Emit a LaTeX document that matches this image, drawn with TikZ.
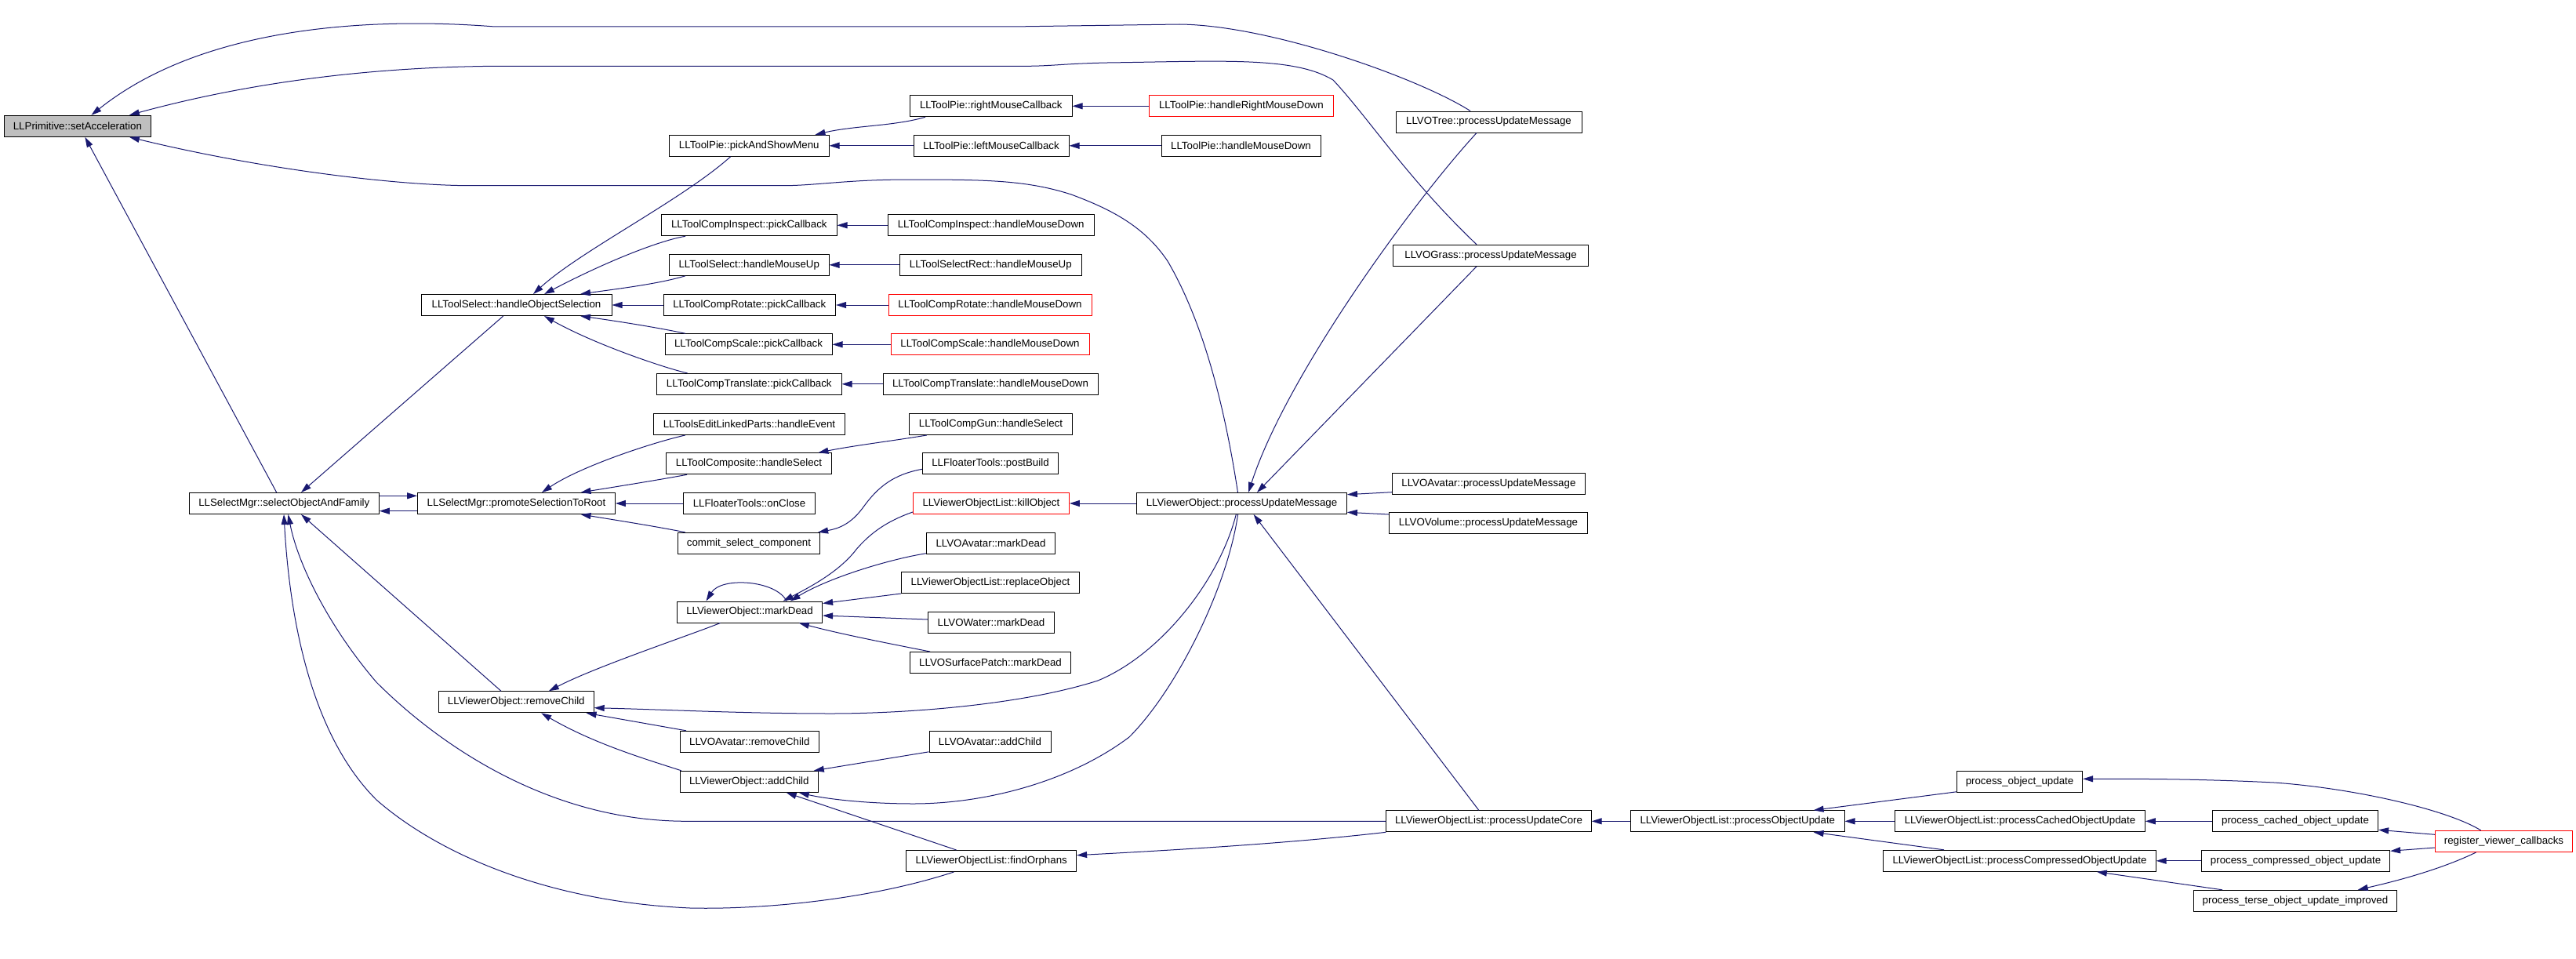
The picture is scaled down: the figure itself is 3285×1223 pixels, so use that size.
\documentclass[tikz,border=0pt]{standalone}
\usepackage{fontspec}
\setmainfont{Liberation Sans}
\usetikzlibrary{calc,arrows.meta}
\definecolor{edgeblue}{RGB}{25,25,112}
\definecolor{rootgray}{RGB}{191,191,191}
\begin{document}
\begin{tikzpicture}[x=1pt,y=-1pt,
  box/.style={draw=black,line width=1pt,fill=white,minimum height=27pt,inner sep=0pt,font=\fontsize{13.3pt}{16pt}\selectfont},
  redbox/.style={box,draw=red},
  edge/.style={draw=edgeblue,line width=1pt,-{Triangle[length=13pt,width=8pt]}}]
\useasboundingbox (0,0) rectangle (3285,1223);
% nodes
\node[box,minimum width=187pt,fill=rootgray] (setacc) at (98.9,160.8) {LLPrimitive::setAcceleration};
\node[box,minimum width=203.4pt] (pickshow) at (955.3,185.8) {LLToolPie::pickAndShowMenu};
\node[box,minimum width=206.5pt] (rmc) at (1263.8,135.3) {LLToolPie::rightMouseCallback};
\node[redbox,minimum width=234.2pt] (hrmd) at (1582.9,135.3) {LLToolPie::handleRightMouseDown};
\node[box,minimum width=198pt] (lmc) at (1264,185.8) {LLToolPie::leftMouseCallback};
\node[box,minimum width=203pt] (pihmd) at (1582.5,185.8) {LLToolPie::handleMouseDown};
\node[box,minimum width=237pt] (votree) at (1898.5,155.5) {LLVOTree::processUpdateMessage};
\node[box,minimum width=223.4pt] (cinsp) at (955.3,287.3) {LLToolCompInspect::pickCallback};
\node[box,minimum width=263.4pt] (cinsphmd) at (1263.7,287.3) {LLToolCompInspect::handleMouseDown};
\node[box,minimum width=203.4pt] (tshmu) at (955.3,337.8) {LLToolSelect::handleMouseUp};
\node[box,minimum width=231.5pt] (tsrhmu) at (1263.3,337.8) {LLToolSelectRect::handleMouseUp};
\node[box,minimum width=249.5pt] (vograss) at (1901,325.8) {LLVOGrass::processUpdateMessage};
\node[box,minimum width=243pt] (hos) at (658.5,389) {LLToolSelect::handleObjectSelection};
\node[box,minimum width=219.6pt] (crpc) at (955.8,389) {LLToolCompRotate::pickCallback};
\node[redbox,minimum width=259pt] (crhmd) at (1262.5,389) {LLToolCompRotate::handleMouseDown};
\node[box,minimum width=213pt] (cspc) at (954.5,439.3) {LLToolCompScale::pickCallback};
\node[redbox,minimum width=253pt] (cshmd) at (1262.5,439.3) {LLToolCompScale::handleMouseDown};
\node[box,minimum width=235.5pt] (ctpc) at (955.3,489.8) {LLToolCompTranslate::pickCallback};
\node[box,minimum width=274pt] (cthmd) at (1263,489.8) {LLToolCompTranslate::handleMouseDown};
\node[box,minimum width=243.7pt] (telp) at (955.5,541) {LLToolsEditLinkedParts::handleEvent};
\node[box,minimum width=208pt] (cgun) at (1263.5,541) {LLToolCompGun::handleSelect};
\node[box,minimum width=210.8pt] (tcomp) at (955,591.3) {LLToolComposite::handleSelect};
\node[box,minimum width=173.2pt] (postbuild) at (1263,591.3) {LLFloaterTools::postBuild};
\node[box,minimum width=242pt] (soaf) at (362.3,642) {LLSelectMgr::selectObjectAndFamily};
\node[box,minimum width=251.8pt] (pstr) at (658.5,642) {LLSelectMgr::promoteSelectionToRoot};
\node[box,minimum width=168pt] (onclose) at (955.5,642) {LLFloaterTools::onClose};
\node[redbox,minimum width=199pt] (kill) at (1263.9,642) {LLViewerObjectList::killObject};
\node[box,minimum width=267.8pt] (vopum) at (1583.5,642) {LLViewerObject::processUpdateMessage};
\node[box,minimum width=246pt] (avpum) at (1898.4,617) {LLVOAvatar::processUpdateMessage};
\node[box,minimum width=253pt] (volpum) at (1898,667.3) {LLVOVolume::processUpdateMessage};
\node[box,minimum width=181.2pt] (csc) at (955,692.8) {commit\_select\_component};
\node[box,minimum width=164.3pt] (avmd) at (1263.5,692.8) {LLVOAvatar::markDead};
\node[box,minimum width=226.8pt] (replace) at (1263,743) {LLViewerObjectList::replaceObject};
\node[box,minimum width=185.2pt] (vomd) at (956,780.5) {LLViewerObject::markDead};
\node[box,minimum width=161pt] (watermd) at (1264,793.8) {LLVOWater::markDead};
\node[box,minimum width=205.4pt] (spmd) at (1263,845) {LLVOSurfacePatch::markDead};
\node[box,minimum width=197.8pt] (rmch) at (658.3,895.3) {LLViewerObject::removeChild};
\node[box,minimum width=176.7pt] (avrmch) at (955.8,945.8) {LLVOAvatar::removeChild};
\node[box,minimum width=155pt] (avaddch) at (1262.5,945.8) {LLVOAvatar::addChild};
\node[box,minimum width=175.5pt] (addch) at (955.3,996.8) {LLViewerObject::addChild};
\node[box,minimum width=216.8pt] (orphans) at (1264.2,1098) {LLViewerObjectList::findOrphans};
\node[box,minimum width=261.4pt] (puc) at (1898.5,1047.3) {LLViewerObjectList::processUpdateCore};
\node[box,minimum width=272.4pt] (pou) at (2215.8,1047.3) {LLViewerObjectList::processObjectUpdate};
\node[box,minimum width=160.2pt] (pobj) at (2575.5,996.8) {process\_object\_update};
\node[box,minimum width=318.6pt] (pcou) at (2576,1047.3) {LLViewerObjectList::processCachedObjectUpdate};
\node[box,minimum width=211.1pt] (pcached) at (2927,1047.3) {process\_cached\_object\_update};
\node[redbox,minimum width=175.2pt] (reg) at (3193,1073) {register\_viewer\_callbacks};
\node[box,minimum width=347.4pt] (pcomp) at (2575.5,1097.8) {LLViewerObjectList::processCompressedObjectUpdate};
\node[box,minimum width=240pt] (pcompobj) at (2927.6,1097.8) {process\_compressed\_object\_update};
\node[box,minimum width=258.9pt] (pterse) at (2927,1148.8) {process\_terse\_object\_update\_improved};
% edges into setAcceleration
\draw[edge] ($(votree.north)+(-23.5,0)$) .. controls (1810,100) and (1620,32) .. (1504,31) -- (1290,34) -- (631,34) .. controls (450,20) and (250,40) .. ($(setacc.north)+(17.6,0)$);
\draw[edge] ($(vograss.north)+(-18,0)$) .. controls (1795,228) and (1745,150) .. (1700,102) .. controls (1650,72) and (1560,78) .. (1412,80) .. controls (1360,81) and (1340,84.3) .. (1309,84.3) -- (631,84.3) .. controls (450,86) and (300,110) .. ($(setacc.north)+(66,0)$);
\draw[edge] ($(vopum.north)+(-5,0)$) .. controls (1565,540) and (1540,420) .. (1489,333) .. controls (1460,290) and (1420,268) .. (1366,248) .. controls (1310,230) and (1260,229) .. (1160,229) .. controls (1080,229) and (1040,236.7) .. (999,236.7) -- (596,236.7) .. controls (500,236) and (330,215) .. ($(setacc.south)+(66,0)$);
\draw[edge] ($(soaf.north)+(-9.6,0)$) -- ($(setacc.south)+(9.5,0)$);
% ToolPie
\draw[edge] ($(rmc.south)+(-83.8,0)$) .. controls (1140,161) and (1090,160) .. ($(pickshow.north)+(84.2,0)$);
\draw[edge] (lmc.west) -- (pickshow.east);
\draw[edge] (hrmd.west) -- (rmc.east);
\draw[edge] (pihmd.west) -- (lmc.east);
% into handleObjectSelection
\draw[edge] ($(pickshow.south)+(-23.7,0)$) .. controls (870,255) and (740,320) .. ($(hos.north)+(21.5,0)$);
\draw[edge] ($(cinsp.south)+(-81.3,0)$) .. controls (845,306) and (780,330) .. ($(hos.north)+(35.5,0)$);
\draw[edge] ($(tshmu.south)+(-81.3,0)$) .. controls (840,362) and (790,368) .. ($(hos.north)+(81.5,0)$);
\draw[edge] (crpc.west) -- (hos.east);
\draw[edge] ($(cspc.north)+(-80.5,0)$) .. controls (840,418) and (790,410) .. ($(hos.south)+(81.5,0)$);
\draw[edge] ($(ctpc.north)+(-78.8,0)$) .. controls (850,470) and (760,440) .. ($(hos.south)+(35.5,0)$);
\draw[edge] (cinsphmd.west) -- (cinsp.east);
\draw[edge] (tsrhmu.west) -- (tshmu.east);
\draw[edge] (crhmd.west) -- (crpc.east);
\draw[edge] (cshmd.west) -- (cspc.east);
\draw[edge] (cthmd.west) -- (ctpc.east);
% select manager
\draw[edge] ($(hos.south)+(-16.7,0)$) -- ($(soaf.north)+(21.7,0)$);
\draw[edge] ($(soaf.east)+(0,-9.7)$) -- ($(pstr.west)+(0,-9.7)$);
\draw[edge] ($(pstr.west)+(0,9.7)$) -- ($(soaf.east)+(0,9.7)$);
\draw[edge] ($(telp.south)+(-81.8,0)$) .. controls (830,565) and (740,595) .. ($(pstr.north)+(32.5,0)$);
\draw[edge] ($(tcomp.south)+(-79,0)$) .. controls (840,612) and (790,620) .. ($(pstr.north)+(82,0)$);
\draw[edge] (onclose.west) -- (pstr.east);
\draw[edge] ($(csc.north)+(-81.3,0)$) .. controls (840,672) and (790,664) .. ($(pstr.south)+(82,0)$);
\draw[edge] ($(cgun.south)+(-81.7,0)$) .. controls (1140,562) and (1090,568) .. ($(tcomp.north)+(88.4,0)$);
\draw[edge] ($(postbuild.west)+(0,7)$) .. controls (1140,605) and (1120,620) .. (1100,648) .. controls (1085,668) and (1070,674) .. ($(csc.north east)+(-3,0)$);
% markDead
\draw[edge] ($(kill.west)+(0,11)$) .. controls (1130,665) and (1110,680) .. (1092.5,700) .. controls (1070,730) and (1030,750) .. ($(vomd.north)+(42.7,0)$);
\draw[edge] ($(avmd.south west)+(0,-1)$) .. controls (1140,712) and (1060,735) .. ($(vomd.north)+(51.7,0)$);
\draw[edge] (replace.south west) -- ($(vomd.north east)+(0,3)$);
\draw[edge] ($(watermd.west)+(0,-3.8)$) -- ($(vomd.east)+(0,4.5)$);
\draw[edge] ($(spmd.north)+(-77,0)$) .. controls (1120,818) and (1070,808) .. ($(vomd.south)+(62.8,0)$);
\draw[edge] ($(vomd.north)+(47,0)$) .. controls (990,740) and (920,735) .. ($(vomd.north)+(-55.5,0)$);
\draw[edge] (vopum.west) -- (kill.east);
% removeChild / addChild
\draw[edge] ($(vomd.south)+(-37.6,0)$) .. controls (880,810) and (760,850) .. ($(rmch.north)+(41.5,0)$);
\draw[edge] ($(rmch.north)+(-19.3,0)$) -- ($(soaf.south)+(21.7,0)$);
\draw[edge] ($(vopum.south)+(-7.2,0)$) .. controls (1555,740) and (1480,835) .. (1400,868) .. controls (1300,900) and (1150,910) .. (1060,910) .. controls (950,910) and (850,905) .. ($(rmch.east)+(0,7.4)$);
\draw[edge] ($(avrmch.north)+(-80.8,0)$) -- ($(rmch.south)+(89.3,0)$);
\draw[edge] ($(addch.north)+(-86.5,0)$) .. controls (830,970) and (760,950) .. ($(rmch.south)+(31.9,0)$);
\draw[edge] ($(avaddch.south west)+(0,-1)$) -- ($(addch.north)+(82.5,0)$);
\draw[edge] ($(vopum.south)+(-4.9,0)$) .. controls (1565,750) and (1500,880) .. (1440,940) .. controls (1360,1000) and (1250,1025) .. (1165,1025) .. controls (1100,1025) and (1050,1018) .. ($(addch.south)+(63.4,0)$);
\draw[edge] ($(orphans.north)+(-44.6,0)$) -- ($(addch.south)+(47.4,0)$);
% processUpdateCore and findOrphans
\draw[edge] (puc.west) -- (875,1047.3) .. controls (700,1047) and (560,950) .. (480,870) .. controls (420,800) and (380,720) .. ($(soaf.south)+(5.2,0)$);
\draw[edge] ($(orphans.south)+(-47.8,0)$) .. controls (1100,1150) and (960,1160) .. (880,1158) .. controls (700,1150) and (560,1090) .. (480,1020) .. controls (400,940) and (370,800) .. ($(soaf.south)+(-0.3,0)$);
\draw[edge] (puc.south west) .. controls (1650,1075) and (1500,1084) .. ($(orphans.east)+(0,-7.3)$);
\draw[edge] ($(puc.north)+(-12.7,0)$) -- ($(vopum.south)+(15.1,0)$);
% into processUpdateMessage
\draw[edge] ($(votree.south)+(-15.5,0)$) .. controls (1800,260) and (1640,480) .. ($(vopum.north)+(8.5,0)$);
\draw[edge] ($(vograss.south)+(-18,0)$) -- ($(vopum.north)+(19.5,0)$);
\draw[edge] ($(avpum.west)+(0,10.7)$) -- ($(vopum.east)+(0,-11.3)$);
\draw[edge] ($(volpum.west)+(0,-11.3)$) -- ($(vopum.east)+(0,11.3)$);
% right part
\draw[edge] (pou.west) -- (puc.east);
\draw[edge] ($(pobj.south west)+(0,-1)$) -- ($(pou.north)+(96.8,0)$);
\draw[edge] (pcou.west) -- (pou.east);
\draw[edge] ($(pcomp.north)+(-96.5,0)$) -- ($(pou.south)+(96.8,0)$);
\draw[edge] (pcached.west) -- (pcou.east);
\draw[edge] (pcompobj.west) -- (pcomp.east);
\draw[edge] ($(pterse.north)+(-93,0)$) -- ($(pcomp.south)+(98.3,0)$);
\draw[edge] ($(reg.north)+(-29.2,0)$) .. controls (3120,1032) and (3000,1005) .. (2900,998) .. controls (2800,993) and (2720,993.3) .. ($(pobj.east)+(0,-3.5)$);
\draw[edge] ($(reg.west)+(0,-8.7)$) -- ($(pcached.east)+(0,11)$);
\draw[edge] ($(reg.west)+(0,8)$) -- ($(pcompobj.east)+(0,-12.5)$);
\draw[edge] ($(reg.south)+(-35.5,0)$) .. controls (3110,1110) and (3050,1125) .. ($(pterse.north)+(79.7,0)$);
\end{tikzpicture}
\end{document}
